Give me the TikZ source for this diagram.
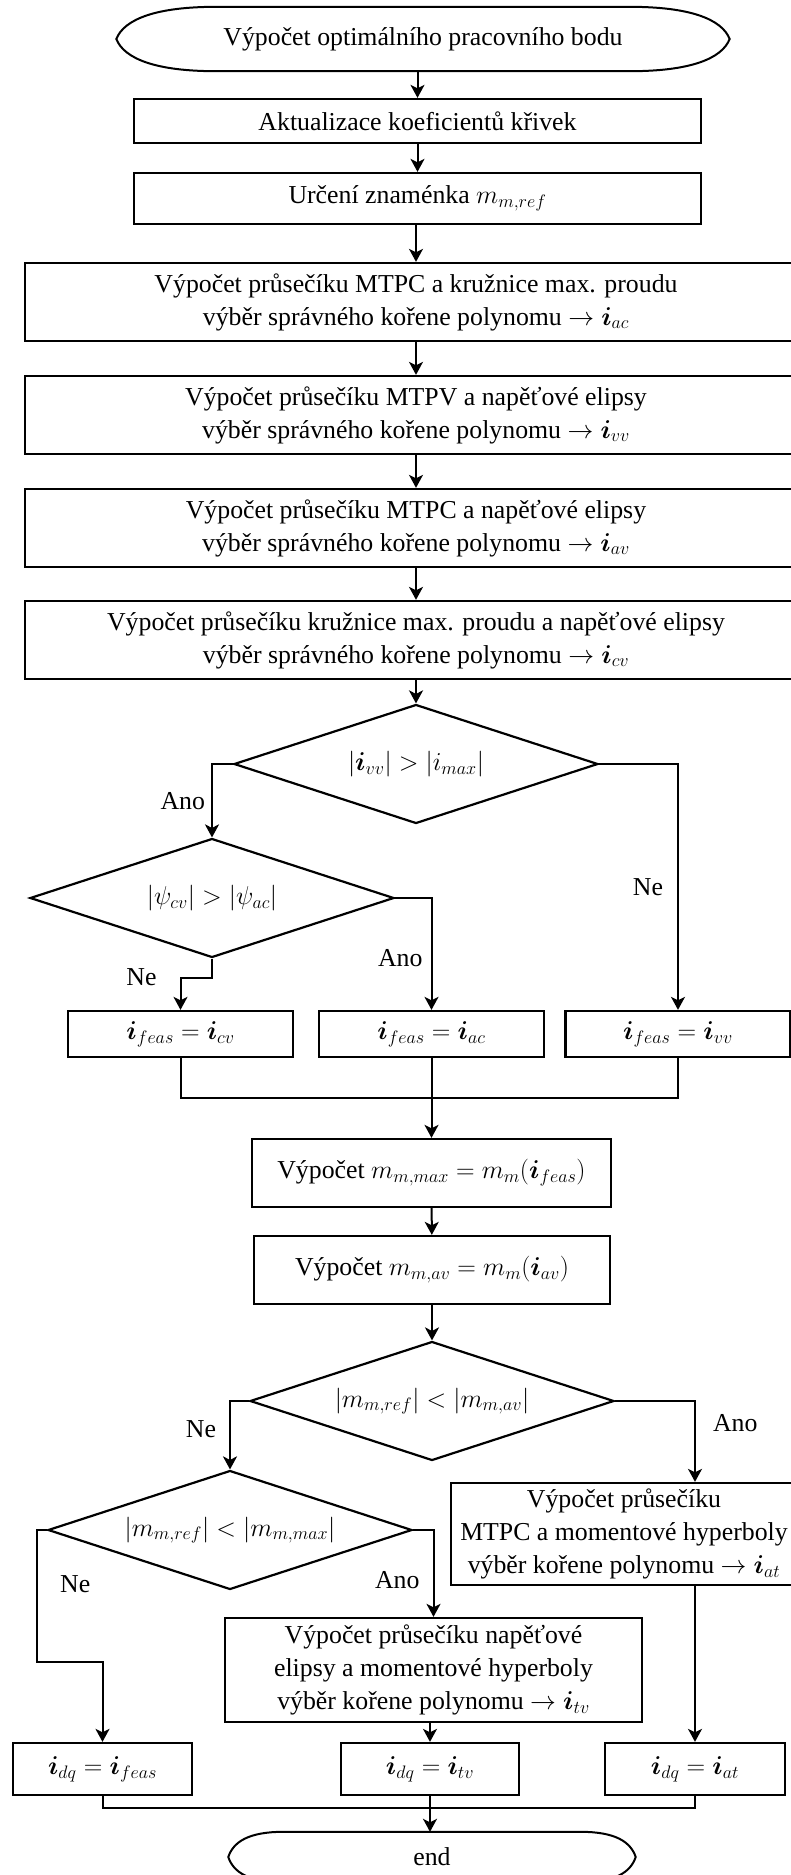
\RequirePackage{fix-cm}
\documentclass[tikz,border=0pt]{standalone}
\usepackage{amsmath,bm}
\usepackage{fontspec}
\setmainfont{Liberation Serif}
\usepackage{tikz}
\usetikzlibrary{shapes.geometric,arrows.meta,calc}
\tikzset{
  term/.style={draw=none, minimum height=64pt, inner sep=2pt},
  proc/.style={draw, line width=2.3pt, rectangle, align=center, inner sep=4pt},
  dec/.style={draw, line width=2.2pt, diamond, aspect=3, inner sep=0pt, minimum width=364pt, minimum height=119pt},
  lbl/.style={inner sep=2pt},
  edge/.style={draw, line width=2pt},
  line/.style={draw, line width=2pt},
  arr/.style={line, -{Stealth[length=13pt,width=14pt,inset=3.5pt]}},
}

\begin{document}
\begin{tikzpicture}[x=1pt,y=-1pt,font=\fontsize{25.8}{33}\selectfont]
\useasboundingbox (0,0) rectangle (791,1875);
\node[term, minimum width=613pt] (start) at (423,39) {Výpočet optimálního pracovního bodu};
\node[proc, minimum width=567pt, minimum height=44pt] (koef) at (417.5,121) {Aktualizace koeficientů křivek};
\node[proc, minimum width=567pt, minimum height=51pt] (znam) at (417.5,198.5) {Určení znaménka $m_{m,ref}$};
\node[proc, minimum width=782pt, minimum height=78pt] (ac) at (416,302) {Výpočet průsečíku MTPC a kružnice max. proudu\\výběr správného kořene polynomu $\rightarrow \bm{i}_{ac}$};
\node[proc, minimum width=782pt, minimum height=78pt] (vv) at (416,415) {Výpočet průsečíku MTPV a napěťové elipsy\\výběr správného kořene polynomu $\rightarrow \bm{i}_{vv}$};
\node[proc, minimum width=782pt, minimum height=78pt] (av) at (416,528) {Výpočet průsečíku MTPC a napěťové elipsy\\výběr správného kořene polynomu $\rightarrow \bm{i}_{av}$};
\node[proc, minimum width=782pt, minimum height=78pt] (cv) at (416,640) {Výpočet průsečíku kružnice max. proudu a napěťové elipsy\\výběr správného kořene polynomu $\rightarrow \bm{i}_{cv}$};
\node[dec] (dvv) at (416,764) {$|\bm{i}_{vv}| > |i_{max}|$};
\node[dec] (dpsi) at (212,898) {$|\psi_{cv}| > |\psi_{ac}|$};
\node[proc, minimum width=225pt, minimum height=46pt] (fcv) at (180.5,1034) {$\bm{i}_{feas} = \bm{i}_{cv}$};
\node[proc, minimum width=225pt, minimum height=46pt] (fac) at (431.5,1034) {$\bm{i}_{feas} = \bm{i}_{ac}$};
\node[proc, minimum width=225pt, minimum height=46pt] (fvv) at (678,1034) {$\bm{i}_{feas} = \bm{i}_{vv}$};
\node[proc, minimum width=359pt, minimum height=68pt] (mmax) at (431.5,1173) {Výpočet $m_{m,max} = m_m(\bm{i}_{feas})$};
\node[proc, minimum width=356pt, minimum height=68pt] (mav) at (432,1270) {Výpočet $m_{m,av} = m_m(\bm{i}_{av})$};
\node[dec] (dav) at (432,1401) {$|m_{m,ref}| < |m_{m,av}|$};
\node[dec] (dmax) at (230,1530) {$|m_{m,ref}| < |m_{m,max}|$};
\node[proc, minimum width=346pt, minimum height=102pt] (iat) at (624,1534) {Výpočet průsečíku\\MTPC a momentové hyperboly\\výběr kořene polynomu $\rightarrow \bm{i}_{at}$};
\node[proc, minimum width=417pt, minimum height=104pt] (itv) at (433.5,1670) {Výpočet průsečíku napěťové\\elipsy a momentové hyperboly\\výběr kořene polynomu $\rightarrow \bm{i}_{tv}$};
\node[proc, minimum width=179pt, minimum height=52pt] (dqf) at (102.5,1769) {$\bm{i}_{dq} = \bm{i}_{feas}$};
\node[proc, minimum width=178pt, minimum height=52pt] (dqtv) at (430,1769) {$\bm{i}_{dq} = \bm{i}_{tv}$};
\node[proc, minimum width=180pt, minimum height=52pt] (dqat) at (695,1769) {$\bm{i}_{dq} = \bm{i}_{at}$};
\node[term, minimum width=407pt, minimum height=50pt] (stop) at (432,1857) {end};

% terminators
\draw[edge] (start.west) .. controls +(8,-20) and +(-60,0) .. ([xshift=100pt]start.north west)
  -- ([xshift=-100pt]start.north east) .. controls +(60,0) and +(-8,-20) .. (start.east)
  .. controls +(-8,20) and +(60,0) .. ([xshift=-100pt]start.south east)
  -- ([xshift=100pt]start.south west) .. controls +(-60,0) and +(8,20) .. (start.west) -- cycle;
\draw[edge] (stop.west) .. controls +(5,-15) and +(-35,0) .. ([xshift=55pt]stop.north west)
  -- ([xshift=-55pt]stop.north east) .. controls +(35,0) and +(-5,-15) .. (stop.east)
  .. controls +(-5,15) and +(35,0) .. ([xshift=-55pt]stop.south east)
  -- ([xshift=55pt]stop.south west) .. controls +(-35,0) and +(5,15) .. (stop.west) -- cycle;

\draw[arr] (koef.north |- start.south) -- (koef.north);
\draw[arr] (koef) -- (znam);
\draw[arr] (ac.north |- znam.south) -- (ac.north);
\draw[arr] (ac) -- (vv);
\draw[arr] (vv) -- (av);
\draw[arr] (av) -- (cv);
\draw[arr] (cv) -- (dvv);
\draw[arr] (dvv.west) -| node[lbl, pos=0.75, left=4pt] {Ano} (dpsi.north);
\draw[arr] (dvv.east) -| node[lbl, pos=0.75, left=12pt] {Ne} (fvv.north);
\draw[arr] (dpsi.east) -| node[lbl, pos=0.77, left=6pt] {Ano} (fac.north);
\draw[arr] (dpsi.south) -- ++(0,19) -| node[lbl, pos=0.5, left=21pt] {Ne} (fcv.north);
\draw[line] (fcv.south) -- ++(0,40) -| (fvv.south);
\draw[arr] (fac) -- (mmax);
\draw[arr] (mmax) -- (mav);
\draw[arr] (mav) -- (dav);
\draw[arr] (dav.west) -| node[lbl, pos=0.705, left=11pt] {Ne} (dmax.north);
\draw[arr] (dav.east) -| node[lbl, pos=0.634, right=15pt] {Ano} (dqat.north |- iat.north);
\draw[arr] (dmax.west) -| ++(-10,132) -| (dqf.north);
\node[lbl, right=20pt] (ne4) at (38,1584) {Ne};
\draw[arr] (dmax.east) -| node[lbl, pos=0.79, left=11pt] {Ano} (itv.north);
\draw[arr] (iat.south -| dqat.north) -- (dqat.north);
\draw[arr] (itv.south -| dqtv.north) -- (dqtv.north);
\draw[line] (dqf.south) -- ++(0,12) -| (dqat.south);
\draw[arr] (dqtv.south) -- (dqtv.south |- stop.north);
\end{tikzpicture}
\end{document}
